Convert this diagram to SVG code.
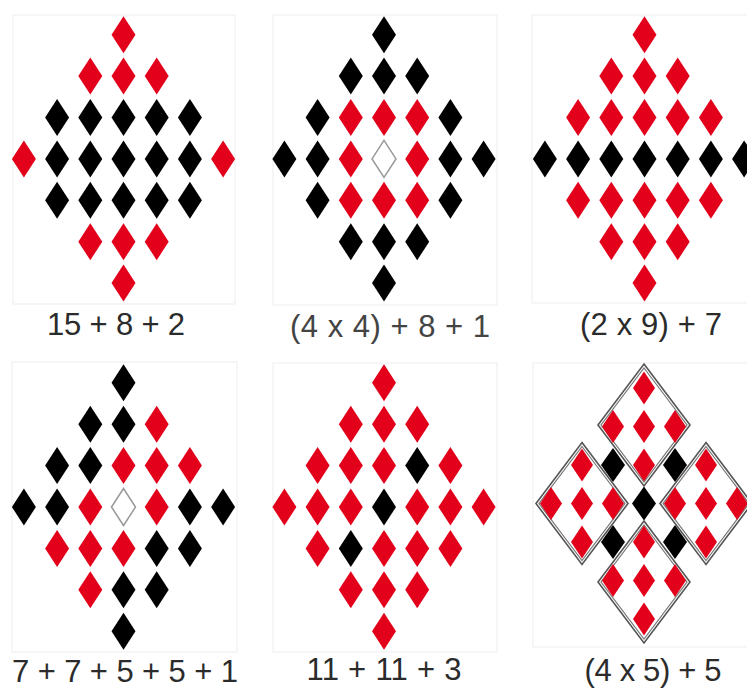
<svg xmlns="http://www.w3.org/2000/svg" xmlns:xlink="http://www.w3.org/1999/xlink" width="747" height="688" viewBox="0 0 747 688">
<style>
.bg{fill:#fff;stroke:#f3f3f3;stroke-width:1.5}
.r{fill:#e2001a}
.k{fill:#000}
.w{fill:#fff;stroke:#999;stroke-width:1.5}
.lbl{font-family:"Liberation Sans",Arial,sans-serif;font-size:31px;fill:#2b2b2b;text-anchor:middle}
.ro{fill:#fff;stroke:#555;stroke-width:1.6}
.ri{fill:none;stroke:#777;stroke-width:1.2}
</style>
<defs>
<path id="d" d="M0,-18.5 L12,0 L0,18.5 L-12,0Z"/>
<path id="s" d="M0,-16.5 L11,0 L0,16.5 L-11,0Z"/>
<path id="sk" d="M0,-17 L12,0 L0,17 L-12,0Z"/>
<path id="rh" d="M0,-61 L46,0 L0,61 L-46,0Z"/>
<path id="rhi" d="M0,-57 L43,0 L0,57 L-43,0Z"/>
</defs>
<rect width="747" height="688" fill="#fff"/>

<g id="panel1">
<rect class="bg" x="13" y="15" width="222" height="289"/>
<g transform="translate(123.5,158.9)">
<use href="#d" class="r" x="0" y="-124.2"/>
<use href="#d" class="r" x="-33.2" y="-82.8"/><use href="#d" class="r" x="0" y="-82.8"/><use href="#d" class="r" x="33.2" y="-82.8"/>
<use href="#d" class="k" x="-66.4" y="-41.4"/><use href="#d" class="k" x="-33.2" y="-41.4"/><use href="#d" class="k" x="0" y="-41.4"/><use href="#d" class="k" x="33.2" y="-41.4"/><use href="#d" class="k" x="66.4" y="-41.4"/>
<use href="#d" class="r" x="-99.6" y="0"/><use href="#d" class="k" x="-66.4" y="0"/><use href="#d" class="k" x="-33.2" y="0"/><use href="#d" class="k" x="0" y="0"/><use href="#d" class="k" x="33.2" y="0"/><use href="#d" class="k" x="66.4" y="0"/><use href="#d" class="r" x="99.6" y="0"/>
<use href="#d" class="k" x="-66.4" y="41.4"/><use href="#d" class="k" x="-33.2" y="41.4"/><use href="#d" class="k" x="0" y="41.4"/><use href="#d" class="k" x="33.2" y="41.4"/><use href="#d" class="k" x="66.4" y="41.4"/>
<use href="#d" class="r" x="-33.2" y="82.8"/><use href="#d" class="r" x="0" y="82.8"/><use href="#d" class="r" x="33.2" y="82.8"/>
<use href="#d" class="r" x="0" y="124.2"/>
</g>
<text class="lbl" x="116" y="335" textLength="138" lengthAdjust="spacing">15 + 8 + 2</text>
</g>

<g id="panel2">
<rect class="bg" x="273" y="15" width="224" height="290"/>
<g transform="translate(384,158.9)">
<use href="#d" class="k" x="0" y="-124.2"/>
<use href="#d" class="k" x="-33.2" y="-82.8"/><use href="#d" class="k" x="0" y="-82.8"/><use href="#d" class="k" x="33.2" y="-82.8"/>
<use href="#d" class="k" x="-66.4" y="-41.4"/><use href="#d" class="r" x="-33.2" y="-41.4"/><use href="#d" class="r" x="0" y="-41.4"/><use href="#d" class="r" x="33.2" y="-41.4"/><use href="#d" class="k" x="66.4" y="-41.4"/>
<use href="#d" class="k" x="-99.6" y="0"/><use href="#d" class="k" x="-66.4" y="0"/><use href="#d" class="r" x="-33.2" y="0"/><use href="#d" class="w" x="0" y="0"/><use href="#d" class="r" x="33.2" y="0"/><use href="#d" class="k" x="66.4" y="0"/><use href="#d" class="k" x="99.6" y="0"/>
<use href="#d" class="k" x="-66.4" y="41.4"/><use href="#d" class="r" x="-33.2" y="41.4"/><use href="#d" class="r" x="0" y="41.4"/><use href="#d" class="r" x="33.2" y="41.4"/><use href="#d" class="k" x="66.4" y="41.4"/>
<use href="#d" class="k" x="-33.2" y="82.8"/><use href="#d" class="k" x="0" y="82.8"/><use href="#d" class="k" x="33.2" y="82.8"/>
<use href="#d" class="k" x="0" y="124.2"/>
</g>
<text class="lbl" x="390" y="337" textLength="200" lengthAdjust="spacing" style="fill:#444">(4 x 4) + 8 + 1</text>
</g>

<g id="panel3">
<rect class="bg" x="532" y="15" width="225" height="288"/>
<g transform="translate(644.5,158.9)">
<use href="#d" class="r" x="0" y="-124.2"/>
<use href="#d" class="r" x="-33.2" y="-82.8"/><use href="#d" class="r" x="0" y="-82.8"/><use href="#d" class="r" x="33.2" y="-82.8"/>
<use href="#d" class="r" x="-66.4" y="-41.4"/><use href="#d" class="r" x="-33.2" y="-41.4"/><use href="#d" class="r" x="0" y="-41.4"/><use href="#d" class="r" x="33.2" y="-41.4"/><use href="#d" class="r" x="66.4" y="-41.4"/>
<use href="#d" class="k" x="-99.6" y="0"/><use href="#d" class="k" x="-66.4" y="0"/><use href="#d" class="k" x="-33.2" y="0"/><use href="#d" class="k" x="0" y="0"/><use href="#d" class="k" x="33.2" y="0"/><use href="#d" class="k" x="66.4" y="0"/><use href="#d" class="k" x="99.6" y="0"/>
<use href="#d" class="r" x="-66.4" y="41.4"/><use href="#d" class="r" x="-33.2" y="41.4"/><use href="#d" class="r" x="0" y="41.4"/><use href="#d" class="r" x="33.2" y="41.4"/><use href="#d" class="r" x="66.4" y="41.4"/>
<use href="#d" class="r" x="-33.2" y="82.8"/><use href="#d" class="r" x="0" y="82.8"/><use href="#d" class="r" x="33.2" y="82.8"/>
<use href="#d" class="r" x="0" y="124.2"/>
</g>
<text class="lbl" x="651" y="335" textLength="142" lengthAdjust="spacing">(2 x 9) + 7</text>
</g>

<g id="panel4">
<rect class="bg" x="12" y="362" width="225" height="290"/>
<g transform="translate(123.5,507)">
<use href="#d" class="k" x="0" y="-124.2"/>
<use href="#d" class="k" x="-33.2" y="-82.8"/><use href="#d" class="k" x="0" y="-82.8"/><use href="#d" class="r" x="33.2" y="-82.8"/>
<use href="#d" class="k" x="-66.4" y="-41.4"/><use href="#d" class="k" x="-33.2" y="-41.4"/><use href="#d" class="r" x="0" y="-41.4"/><use href="#d" class="r" x="33.2" y="-41.4"/><use href="#d" class="r" x="66.4" y="-41.4"/>
<use href="#d" class="k" x="-99.6" y="0"/><use href="#d" class="k" x="-66.4" y="0"/><use href="#d" class="r" x="-33.2" y="0"/><use href="#d" class="w" x="0" y="0"/><use href="#d" class="r" x="33.2" y="0"/><use href="#d" class="k" x="66.4" y="0"/><use href="#d" class="k" x="99.6" y="0"/>
<use href="#d" class="r" x="-66.4" y="41.4"/><use href="#d" class="r" x="-33.2" y="41.4"/><use href="#d" class="r" x="0" y="41.4"/><use href="#d" class="k" x="33.2" y="41.4"/><use href="#d" class="k" x="66.4" y="41.4"/>
<use href="#d" class="r" x="-33.2" y="82.8"/><use href="#d" class="k" x="0" y="82.8"/><use href="#d" class="k" x="33.2" y="82.8"/>
<use href="#d" class="k" x="0" y="124.2"/>
</g>
<text class="lbl" x="125" y="682" textLength="226" lengthAdjust="spacing">7 + 7 + 5 + 5 + 1</text>
</g>

<g id="panel5">
<rect class="bg" x="273" y="363" width="224" height="289"/>
<g transform="translate(384,507)">
<use href="#d" class="r" x="0" y="-124.2"/>
<use href="#d" class="r" x="-33.2" y="-82.8"/><use href="#d" class="r" x="0" y="-82.8"/><use href="#d" class="r" x="33.2" y="-82.8"/>
<use href="#d" class="r" x="-66.4" y="-41.4"/><use href="#d" class="r" x="-33.2" y="-41.4"/><use href="#d" class="r" x="0" y="-41.4"/><use href="#d" class="k" x="33.2" y="-41.4"/><use href="#d" class="r" x="66.4" y="-41.4"/>
<use href="#d" class="r" x="-99.6" y="0"/><use href="#d" class="r" x="-66.4" y="0"/><use href="#d" class="r" x="-33.2" y="0"/><use href="#d" class="k" x="0" y="0"/><use href="#d" class="r" x="33.2" y="0"/><use href="#d" class="r" x="66.4" y="0"/><use href="#d" class="r" x="99.6" y="0"/>
<use href="#d" class="r" x="-66.4" y="41.4"/><use href="#d" class="k" x="-33.2" y="41.4"/><use href="#d" class="r" x="0" y="41.4"/><use href="#d" class="r" x="33.2" y="41.4"/><use href="#d" class="r" x="66.4" y="41.4"/>
<use href="#d" class="r" x="-33.2" y="82.8"/><use href="#d" class="r" x="0" y="82.8"/><use href="#d" class="r" x="33.2" y="82.8"/>
<use href="#d" class="r" x="0" y="124.2"/>
</g>
<text class="lbl" x="384" y="680" textLength="155" lengthAdjust="spacing">11 + 11 + 3</text>
</g>

<g id="panel6">
<rect class="bg" x="533" y="363" width="225" height="284"/>
<g transform="translate(644,503.5)">
<use href="#rh" class="ro" x="0" y="-78.5"/><use href="#rhi" class="ri" x="0" y="-78.5"/>
<use href="#rh" class="ro" x="-62" y="0"/><use href="#rhi" class="ri" x="-62" y="0"/>
<use href="#rh" class="ro" x="62" y="0"/><use href="#rhi" class="ri" x="62" y="0"/>
<use href="#rh" class="ro" x="0" y="78.5"/><use href="#rhi" class="ri" x="0" y="78.5"/>
<use href="#s" class="r" x="0" y="-115.5"/>
<use href="#s" class="r" x="-31" y="-77"/><use href="#s" class="r" x="0" y="-77"/><use href="#s" class="r" x="31" y="-77"/>
<use href="#s" class="r" x="0" y="-38.5"/>
<use href="#s" class="r" x="-62" y="-38.5"/>
<use href="#s" class="r" x="-93" y="0"/><use href="#s" class="r" x="-62" y="0"/><use href="#s" class="r" x="-31" y="0"/>
<use href="#s" class="r" x="-62" y="38.5"/>
<use href="#s" class="r" x="62" y="-38.5"/>
<use href="#s" class="r" x="31" y="0"/><use href="#s" class="r" x="62" y="0"/><use href="#s" class="r" x="93" y="0"/>
<use href="#s" class="r" x="62" y="38.5"/>
<use href="#s" class="r" x="0" y="38.5"/>
<use href="#s" class="r" x="-31" y="77"/><use href="#s" class="r" x="0" y="77"/><use href="#s" class="r" x="31" y="77"/>
<use href="#s" class="r" x="0" y="115.5"/>
<use href="#sk" class="k" x="-31" y="-38.5"/><use href="#sk" class="k" x="31" y="-38.5"/>
<use href="#sk" class="k" x="0" y="0"/>
<use href="#sk" class="k" x="-31" y="38.5"/><use href="#sk" class="k" x="31" y="38.5"/>
</g>
<text class="lbl" x="653" y="681" textLength="137" lengthAdjust="spacing">(4 x 5) + 5</text>
</g>
</svg>
